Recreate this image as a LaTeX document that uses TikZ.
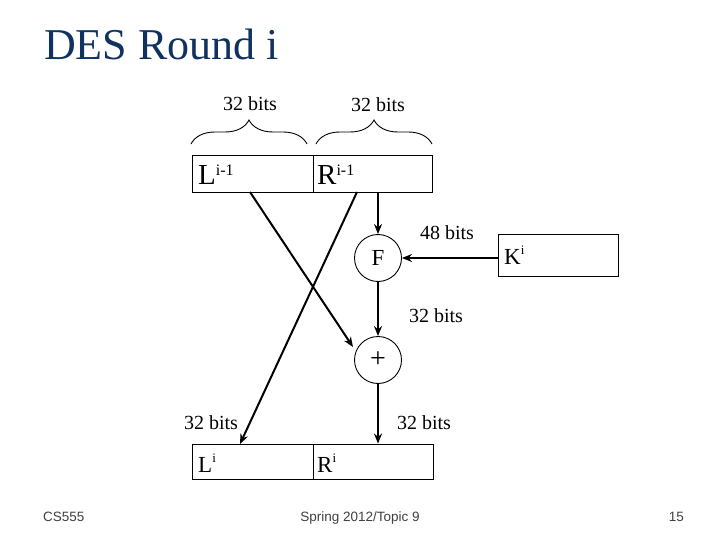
\documentclass[tikz,border=0pt]{standalone}
\usepackage{fontspec}
\setmainfont{Liberation Serif}
\newfontfamily\footfont{Liberation Sans}
\usetikzlibrary{arrows.meta,decorations.pathreplacing}
\definecolor{titleblue}{RGB}{16,50,96}
\definecolor{footgray}{RGB}{64,64,64}
\tikzset{
  lbl/.style={font=\fontsize{20}{24}\selectfont, inner sep=0pt},
  boxtxt/.style={font=\fontsize{29}{32}\selectfont, inner sep=0pt, anchor=base west},
  boxtxtb/.style={font=\fontsize{23}{26}\selectfont, inner sep=0pt, anchor=base west},
  half/.style={draw, line width=0.9pt, inner sep=0pt},
  op/.style={draw, circle, line width=0.9pt, minimum size=47pt, inner sep=0pt, font=\fontsize{23}{26}\selectfont},
  arr/.style={line width=2pt, -{Stealth[length=10pt,width=8pt]}},
  brc/.style={decorate, decoration={brace, amplitude=24pt, aspect=0.5}, line width=0.9pt},
  foot/.style={font=\footfont\fontsize{13.5}{16}\selectfont, text=footgray, inner sep=0pt}
}
\begin{document}
\begin{tikzpicture}[x=1pt,y=-1pt]
\useasboundingbox (0,0) rectangle (720,540);
% title
\node[anchor=base west, inner sep=0pt, text=titleblue, font=\fontsize{44}{50}\selectfont] (title) at (44,60) {DES Round i};
% top boxes
\node[half, minimum width=121pt, minimum height=37pt] (Lprev) at (252.5,173.5) {};
\node[half, minimum width=119pt, minimum height=37pt] (Rprev) at (372.5,173.5) {};
\node[boxtxt] (Lprevt) at (198,185) {L\textsuperscript{\fontsize{16}{16}\selectfont i-1}};
\node[boxtxt] (Rprevt) at (317,185) {R\textsuperscript{\fontsize{16}{16}\selectfont i-1}};
% braces
\coordinate (b1a) at (191,144);
\coordinate (b1b) at (307,144);
\coordinate (b2a) at (316,144);
\coordinate (b2b) at (432,144);
\draw[brc] (b1a) -- (b1b);
\draw[brc] (b2a) -- (b2b);
\node[lbl] (l1) at (250,104) {32 bits};
\node[lbl] (l2) at (378,105) {32 bits};
% F and K
\node[op] (F) at (378,258) {F};
\node[half, minimum width=120pt, minimum height=42pt] (K) at (558,255) {};
\node[boxtxtb] (Kt) at (504,264) {K\textsuperscript{\fontsize{13}{13}\selectfont i}};
\node[lbl] (l48) at (447,233) {48 bits};
% XOR
\node[op, font=\fontsize{28}{30}\selectfont] (X) at (378,360) {+};
\node[lbl] (l32m) at (436,316) {32 bits};
% bottom boxes
\node[half, minimum width=121pt, minimum height=35pt] (Lnew) at (252.5,461.5) {};
\node[half, minimum width=120pt, minimum height=35pt] (Rnew) at (373,461.5) {};
\node[boxtxtb] (Lnewt) at (198,472) {L\textsuperscript{\fontsize{13}{13}\selectfont i}};
\node[boxtxtb] (Rnewt) at (317,472) {R\textsuperscript{\fontsize{13}{13}\selectfont i}};
\node[lbl] (l3) at (211,423) {32 bits};
\node[lbl] (l4) at (424,423) {32 bits};
% connectors
\coordinate (s1) at (250,192);
\coordinate (s2) at (357,192);
\coordinate (t1) at (353,347);
\coordinate (t2) at (240,444);
\draw[arr] (Rprev.south -| F) -- (F.north);
\draw[arr] (K.west |- F) -- (F.east);
\draw[arr] (F.south) -- (X.north);
\draw[arr] (X.south) -- (Rnew.north -| X);
\draw[arr] (s1) -- (t1);
\draw[arr] (s2) -- (t2);
% footer
\node[foot, anchor=base west] (f1) at (43,521) {CS555};
\node[foot, anchor=base] (f2) at (360,521) {Spring 2012/Topic 9};
\node[foot, anchor=base east] (f3) at (684,521) {15};
\end{tikzpicture}
\end{document}
